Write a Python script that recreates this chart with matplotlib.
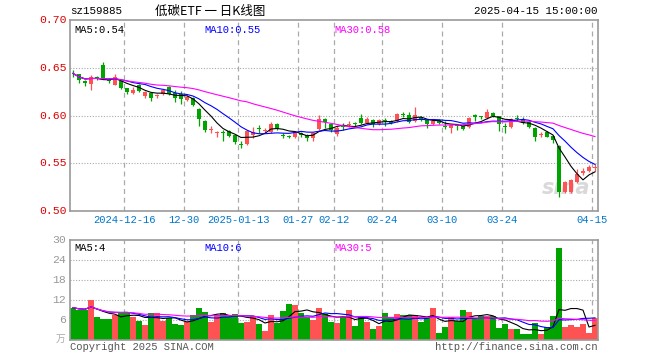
import numpy as np
import pandas as pd
import matplotlib
matplotlib.use('Agg')
from matplotlib import pyplot as plt

# 低碳ETF 日K, 2024-12-03 .. 2025-04-15 (88 trading days)
opens = [.645, .643, .636, .633, .640, .653, .637, .632, .636, .629,
         .624, .632, .620, .624, .620, .622, .630, .624, .622, .616,
         .618, .607, .594, .585, .582, .583, .584, .580, .570, .570,
         .580, .587, .584, .583, .591, .580, .579, .578, .582, .580,
         .576, .586, .596, .591, .581, .589, .590, .592, .597, .592,
         .595, .591, .595, .594, .594, .602, .601, .594, .598, .595,
         .591, .595, .589, .587, .590, .589, .588, .601, .599, .597,
         .603, .599, .589, .588, .597, .595, .593, .587, .580, .583,
         .579, .568, .520, .520, .530, .540, .542, .545]
highs = [.648, .643, .637, .642, .641, .656, .639, .643, .637, .629,
         .630, .633, .626, .625, .623, .628, .631, .627, .626, .621,
         .619, .608, .595, .589, .584, .585, .585, .581, .573, .585,
         .588, .590, .587, .593, .592, .582, .580, .584, .583, .581,
         .583, .601, .597, .592, .589, .592, .594, .593, .602, .598,
         .596, .596, .597, .595, .603, .604, .604, .609, .599, .596,
         .595, .596, .594, .591, .591, .590, .598, .602, .600, .607,
         .604, .600, .592, .597, .601, .598, .594, .588, .583, .584,
         .580, .569, .531, .534, .544, .545, .548, .549]
lows = [.640, .634, .631, .627, .637, .638, .634, .632, .628, .623,
        .623, .625, .618, .615, .618, .621, .621, .614, .612, .615,
        .610, .589, .583, .582, .578, .573, .578, .570, .566, .569,
        .576, .582, .583, .582, .585, .576, .576, .576, .578, .573,
        .573, .585, .587, .583, .579, .585, .588, .588, .591, .591,
        .588, .590, .589, .591, .593, .598, .592, .593, .594, .587,
        .590, .591, .586, .582, .585, .585, .587, .594, .596, .596,
        .598, .584, .582, .587, .594, .591, .587, .573, .578, .577,
        .571, .515, .519, .519, .529, .538, .541, .542]
closes = [.644, .637, .634, .640, .639, .638, .636, .640, .629, .625,
          .627, .626, .625, .618, .621, .627, .622, .618, .617, .619,
          .611, .596, .585, .586, .583, .582, .579, .572, .569, .584,
          .583, .586, .585, .591, .587, .579, .577, .582, .580, .576,
          .582, .596, .593, .585, .587, .588, .591, .591, .592, .596,
          .591, .595, .594, .592, .602, .601, .593, .601, .595, .591,
          .594, .592, .588, .590, .589, .586, .597, .598, .598, .604,
          .599, .591, .588, .596, .596, .592, .588, .577, .581, .578,
          .574, .520, .530, .532, .539, .542, .546, .546]
# 成交量 (万)
volumes = [9.7, 9.0, 9.0, 12.0, 6.8, 6.2, 6.2, 7.5, 8.0, 8.5,
           7.0, 5.8, 4.5, 8.0, 8.2, 5.8, 6.5, 4.8, 4.5, 5.5,
           7.5, 9.7, 8.5, 5.5, 7.5, 8.2, 7.2, 7.8, 5.2, 5.5,
           7.2, 4.8, 2.8, 7.5, 5.0, 8.8, 10.8, 10.5, 8.2, 6.8,
           6.0, 9.7, 7.8, 5.5, 5.2, 6.8, 9.0, 4.2, 7.2, 5.5,
           3.4, 4.2, 8.2, 6.5, 7.8, 7.5, 7.5, 7.5, 5.5, 6.5,
           9.7, 2.2, 4.0, 6.8, 5.8, 9.0, 8.5, 6.2, 7.2, 7.2,
           7.2, 3.7, 4.8, 3.4, 3.4, 1.8, 1.8, 5.2, 1.8, 4.0,
           7.2, 27.5, 4.0, 4.5, 4.0, 4.8, 2.2, 6.5]
tick_idx = [9, 19, 28, 38, 44, 52, 62, 72, 87]
tick_labels = ['2024-12-16', '12-30', '2025-01-13', '01-27', '02-12',
               '02-24', '03-10', '03-24', '04-15']

df = pd.DataFrame({'open': opens, 'high': highs, 'low': lows,
                   'close': closes, 'vol': volumes})
n = len(df)
x = np.arange(n)
up = df.close >= df.open
RED = '#ff5252'
GREEN = '#00a300'
colors = np.where(up, RED, GREEN)

MONO = 'Liberation Mono'
W, H = 660, 360

fig = plt.figure(figsize=(6.6, 3.6), dpi=100)


def fx(px):
    return px / W


def fy(py):
    return 1 - py / H


ax = fig.add_axes([fx(70), fy(211), fx(528), 191 / H])
axv = fig.add_axes([fx(70), fy(340), fx(528), 100 / H])

for a in (ax, axv):
    a.set_xlim(-0.5, n - 0.5)
    for s in a.spines.values():
        s.set_color('#999999')
        s.set_linewidth(1.2)
    a.tick_params(length=0)
    a.set_xticks([])
    for t in tick_idx:
        a.axvline(t - 0.5, color='#aaaaaa', lw=0.9, ls=(0, (4, 3)), zorder=0)

# price panel
ax.set_ylim(0.50, 0.70)
ax.set_yticks([])
for v in [0.65, 0.60, 0.55]:
    ax.axhline(v, color='#aaaaaa', lw=0.8, ls=(0, (1, 1.5)), zorder=0)

ax.vlines(x, df.low, df.high, colors=colors, lw=0.9, zorder=2)
body = (df.close - df.open).abs()
ax.bar(x, np.maximum(body, 0.0008), bottom=np.minimum(df.open, df.close),
       width=0.82, color=colors, zorder=3, linewidth=0)

ma_cols = {5: 'black', 10: '#0000ff', 30: '#ff00ff'}
for w, c in ma_cols.items():
    ax.plot(x, df.close.rolling(w, min_periods=1).mean(), color=c, lw=0.8, zorder=4)

for v in [0.70, 0.65, 0.60, 0.55, 0.50]:
    ax.text(-0.007, v, '%.2f' % v, transform=ax.get_yaxis_transform(),
            ha='right', va='center', color='#dd0000', fontsize=8.2, family=MONO)

for t, lab in zip(tick_idx, tick_labels):
    ax.text(t - 0.5, 0.4955, lab, ha='center', va='top', color='#0077cc',
            fontsize=7.6, family=MONO, clip_on=False)

ax.text(0.008, 0.975, 'MA5:%.2f' % df.close.iloc[-5:].mean(), transform=ax.transAxes,
        ha='left', va='top', fontsize=7.6, family=MONO, color='black')
ax.text(0.254, 0.975, 'MA10:%.2f' % df.close.iloc[-10:].mean(), transform=ax.transAxes,
        ha='left', va='top', fontsize=7.6, family=MONO, color='#0000ff')
ax.text(0.5, 0.975, 'MA30:%.2f' % df.close.iloc[-30:].mean(), transform=ax.transAxes,
        ha='left', va='top', fontsize=7.6, family=MONO, color='#ff00ff')

ax.text(0.985, 0.12, 'sina', transform=ax.transAxes, ha='right', va='center',
        fontsize=15, fontweight='bold', style='italic', color='#d0d0d0',
        family='DejaVu Sans', alpha=0.8, zorder=1)

# volume panel
axv.set_ylim(0, 30)
axv.set_yticks([])
for v in [6, 12, 18, 24]:
    axv.axhline(v, color='#aaaaaa', lw=0.8, ls=(0, (1, 1.5)), zorder=0)
axv.bar(x, df.vol, width=0.85, color=colors, linewidth=0, zorder=2)
for w, c in ma_cols.items():
    axv.plot(x, df.vol.rolling(w, min_periods=1).mean(), color=c, lw=0.8, zorder=3)

for v in [30, 24, 18, 12, 6]:
    axv.text(-0.008, v, str(v), transform=axv.get_yaxis_transform(),
             ha='right', va='center', color='#999999', fontsize=8.2, family=MONO)
axv.text(-0.008, 0.3, '万', transform=axv.get_yaxis_transform(), ha='right',
         va='center', color='#aaaaaa', fontsize=7, family=['Noto Sans CJK SC'])

axv.text(0.008, 0.97, 'MA5:%d' % round(df.vol.iloc[-5:].mean()), transform=axv.transAxes,
         ha='left', va='top', fontsize=7.6, family=MONO, color='black')
axv.text(0.254, 0.97, 'MA10:%d' % int(df.vol.iloc[-10:].mean()), transform=axv.transAxes,
         ha='left', va='top', fontsize=7.6, family=MONO, color='#0000ff')
axv.text(0.5, 0.97, 'MA30:%d' % int(df.vol.iloc[-30:].mean()), transform=axv.transAxes,
         ha='left', va='top', fontsize=7.6, family=MONO, color='#ff00ff')

# header / footer
fig.text(fx(70), fy(11), 'sz159885', ha='left', va='center', fontsize=7.8, family=MONO)
fig.text(fx(210), fy(11), '低碳ETF 一 日K线图', ha='center', va='center', fontsize=9,
         family=['Noto Sans CJK SC', 'DejaVu Sans'])
fig.text(fx(598), fy(11), '2025-04-15 15:00:00', ha='right', va='center',
         fontsize=7.8, family=MONO)
fig.text(fx(70), fy(347), 'Copyright 2025 SINA.COM', ha='left', va='center',
         fontsize=7.6, family=MONO, color='#555555')
fig.text(fx(598), fy(347), 'http://finance.sina.com.cn', ha='right', va='center',
         fontsize=7.6, family=MONO, color='#555555')

fig.savefig('out.png', dpi=100, facecolor='white')
